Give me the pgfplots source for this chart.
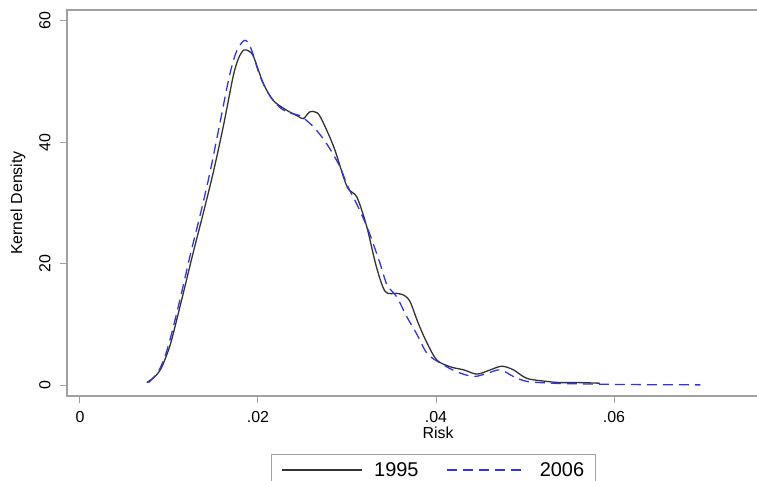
\documentclass[border=0pt]{standalone}
\usepackage{pgfplots}
\pgfplotsset{compat=1.18}
\usepackage{fontspec}
\setmainfont{Liberation Sans}
\definecolor{axgray}{RGB}{160,160,160}
\definecolor{kblue}{RGB}{50,50,240}
\begin{document}
\begin{tikzpicture}
\useasboundingbox (-67bp,-85bp) rectangle (690bp,396bp);
\clip (-67bp,-85bp) rectangle (690bp,396bp);
\begin{axis}[
  at={(0,0)}, anchor=south west,
  scale only axis, width=742bp, height=386bp,
  xmin=-0.00146, xmax=0.08191, ymin=-1.81, ymax=61.8,
  xtick={0,0.02,0.04,0.06}, xticklabels={0,.02,.04,.06},
  ytick={0,20,40,60},
  scaled x ticks=false, scaled y ticks=false,
  xtick pos=bottom, ytick pos=left,
  tick align=outside, major tick length=7bp,
  axis line style={axgray, line width=1.2bp},
  every tick/.style={axgray, line width=1bp},
  /pgf/number format/assume math mode=true,
  tick label style={font=\fontsize{16}{19}\selectfont},
  xticklabel style={anchor=center, yshift=-14bp},
  yticklabel style={rotate=90, anchor=center, yshift=15bp},
  xlabel={Risk}, ylabel={Kernel Density},
  label style={font=\fontsize{16}{19}\selectfont},
  xlabel style={at={(axis description cs:0.5,0)}, anchor=center, yshift=-37bp},
  ylabel style={at={(axis description cs:0,0.5)}, anchor=center, yshift=49bp},
  legend columns=2,
  legend style={at={(axis description cs:0.494,-0.150)}, anchor=north,
    draw=axgray, line width=1bp, font=\fontsize{20}{23}\selectfont,
    inner xsep=9bp, inner ysep=6bp,
    /tikz/every odd column/.append style={column sep=10bp},
    /tikz/every even column/.append style={column sep=26bp}},
  legend image code/.code={\draw[#1] (0bp,0bp) -- (80bp,0bp);},
]
\addplot[black!80, line width=1.3bp, smooth] coordinates {
(0.0075,0.4) (0.0085,1.5) (0.0092,3.0) (0.0100,6.0) (0.0105,8.6)
(0.0116,15.1) (0.0127,21.7) (0.0139,28.6) (0.0150,35.2) (0.0161,42.6)
(0.0172,50.8) (0.0178,53.8) (0.0184,55.2) (0.0190,55.0) (0.0195,54.1)
(0.0206,49.7) (0.0217,46.9) (0.0232,45.3) (0.0245,44.3) (0.0251,43.9)
(0.0258,45.0) (0.0264,45.0) (0.0270,44.2) (0.0285,39.3) (0.0300,32.7)
(0.0311,31.0) (0.0322,26.2) (0.0333,19.5) (0.0343,15.4) (0.0356,15.1)
(0.0364,14.8) (0.0371,13.7) (0.0380,10.2) (0.0390,6.9) (0.0401,4.1)
(0.0416,3.0) (0.0431,2.5) (0.0446,1.8) (0.0461,2.5) (0.0474,3.1)
(0.0487,2.5) (0.0502,1.1) (0.0524,0.6) (0.0540,0.4) (0.0560,0.4) (0.0584,0.3)
};
\addlegendentry{1995}
\addplot[kblue, line width=1.3bp, dash pattern=on 10bp off 6bp, smooth] coordinates {
(0.0077,0.4) (0.0087,2.0) (0.0095,4.5) (0.0103,8.5) (0.0113,14.5)
(0.0124,21.5) (0.0135,28.0) (0.0146,35.0) (0.0157,43.0) (0.0168,51.0)
(0.0176,55.0) (0.0185,56.8) (0.0192,55.5) (0.0202,51.0) (0.0212,48.0)
(0.0224,45.8) (0.0236,44.8) (0.0247,44.4) (0.0262,42.6) (0.0277,39.8)
(0.0292,36.0) (0.0300,33.0) (0.0312,29.5) (0.0324,25.5) (0.0337,20.1)
(0.0345,16.5) (0.0356,14.5) (0.0367,11.3) (0.0378,8.5) (0.0390,5.2)
(0.0405,3.6) (0.0423,2.2) (0.0442,1.4) (0.0457,1.9) (0.0472,2.5)
(0.0487,1.4) (0.0502,0.6) (0.0530,0.3) (0.0560,0.2) (0.0600,0.1)
(0.0650,0.05) (0.0697,0.02)
};
\addlegendentry{2006}
\end{axis}
\end{tikzpicture}
\end{document}
